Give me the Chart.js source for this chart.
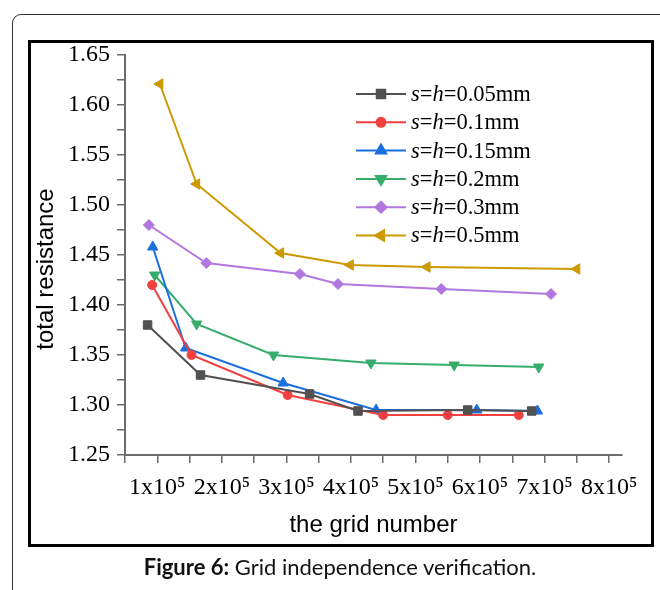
<!DOCTYPE html>
<html>
<head>
<meta charset="utf-8">
<script src="https://cdn.jsdelivr.net/npm/chart.js@4.4.1/dist/chart.umd.min.js"></script>
<style>
  html, body { margin: 0; padding: 0; background: #fff; }
  #page { position: relative; width: 660px; height: 590px; overflow: hidden; }
  #outer { position: absolute; left: 12px; top: 14px; width: 700px; height: 640px;
           border: 1px solid #333; border-radius: 9px; }
  #frame { position: absolute; left: 28px; top: 40px; width: 620px; height: 501px;
           border: 3px solid #000; }
  #wrap { position: absolute; left: 0; top: 0; width: 660px; height: 590px; }
  #caption { position: absolute; left: 0; width: 680px; top: 553px; text-align: center;
             font-family: Lato, "Open Sans", sans-serif; font-size: 22px; color: #111; }
</style>
</head>
<body>
<div id="page">
  <div id="outer"></div>
  <div id="frame"></div>
  <div id="wrap"><canvas id="grid"></canvas></div>
  <div id="caption"><b>Figure 6:</b> Grid independence verification.</div>
</div>
<script>
// ==================== DATOS ====================

// grid number, in units of 1x10^5
const gx005 = [0.85, 1.67, 3.36, 4.11, 5.81, 6.80];
const gx01  = [0.92, 1.53, 3.02, 4.50, 5.50, 6.60];
const gx015 = [0.93, 1.44, 2.95, 4.39, 5.95, 6.89];
const gx02  = [0.96, 1.61, 2.80, 4.31, 5.60, 6.91];
const gx03  = [0.87, 1.76, 3.21, 3.80, 5.40, 7.10];
const gx05  = [1.04, 1.61, 2.91, 3.99, 5.18, 7.50];

// total resistance
const r005 = [1.38, 1.33, 1.311, 1.294, 1.295, 1.294];
const r01  = [1.42, 1.35, 1.31, 1.29, 1.29, 1.29];
const r015 = [1.458, 1.357, 1.322, 1.295, 1.295, 1.294];
const r02  = [1.43, 1.381, 1.35, 1.342, 1.34, 1.338];
const r03  = [1.48, 1.442, 1.431, 1.421, 1.416, 1.411];
const r05  = [1.621, 1.521, 1.452, 1.44, 1.438, 1.436];

const labels = ["s=h=0.05mm", "s=h=0.1mm", "s=h=0.15mm", "s=h=0.2mm", "s=h=0.3mm", "s=h=0.5mm"];
const xTicks = [1, 2, 3, 4, 5, 6, 7, 8];

const serie = (x, y) => x.map((v, i) => ({ x: v, y: y[i] }));

const estilos = [
  { color: "#515151", pointStyle: "rect", radius: 6, rot: 0 },
  { color: "#F14040", pointStyle: "circle", radius: 4.5, rot: 0 },
  { color: "#1A6FDF", pointStyle: "triangle", radius: 6, rot: 0 },
  { color: "#37AD6B", pointStyle: "triangle", radius: 6, rot: 180 },
  { color: "#B177DE", pointStyle: "rectRot", radius: 5.5, rot: 0 },
  { color: "#CC9900", pointStyle: "triangle", radius: 6, rot: -90 },
];

const datos = [serie(gx005, r005), serie(gx01, r01), serie(gx015, r015),
               serie(gx02, r02), serie(gx03, r03), serie(gx05, r05)];

const datasets = datos.map((d, i) => ({
  label: labels[i],
  data: d,
  showLine: true,
  borderColor: estilos[i].color,
  backgroundColor: estilos[i].color,
  borderWidth: 2,
  pointStyle: estilos[i].pointStyle,
  pointRotation: estilos[i].rot,
  pointRadius: estilos[i].radius,
  pointBorderWidth: 1,
  tension: 0,
}));

// ==================== LEYENDA Y TÍTULO Y ====================

const serif = '"Liberation Serif", "Times New Roman", serif';
const sans = '"Liberation Sans", Arial, sans-serif';

const leyenda = {
  id: "leyenda",
  afterDraw(chart) {
    const ctx = chart.ctx;
    ctx.save();
    labels.forEach((txt, i) => {
      const y = 94 + i * 28.3;
      const e = estilos[i];
      ctx.strokeStyle = e.color;
      ctx.lineWidth = 2;
      ctx.beginPath();
      ctx.moveTo(356, y);
      ctx.lineTo(406, y);
      ctx.stroke();
      ctx.fillStyle = e.color;
      Chart.helpers.drawPoint(ctx, {
        pointStyle: e.pointStyle, radius: e.radius, rotation: e.rot, borderWidth: 1,
      }, 381, y);
      ctx.fill();

      // s y h en cursiva
      const partes = [["s", true], ["=", false], ["h", true], [txt.slice(3), false]];
      let x = 411;
      ctx.fillStyle = "#000";
      ctx.textBaseline = "middle";
      partes.forEach(([p, it]) => {
        ctx.font = (it ? "italic " : "") + "22.5px " + serif;
        ctx.fillText(p, x, y + 1);
        x += ctx.measureText(p).width;
      });
    });

    // título del eje Y, algo por debajo del centro del eje
    const yAxis = chart.scales.y;
    ctx.translate(46, (yAxis.top + yAxis.bottom) / 2 + 14);
    ctx.rotate(-Math.PI / 2);
    ctx.font = "24px " + sans;
    ctx.fillStyle = "#000";
    ctx.textAlign = "center";
    ctx.textBaseline = "middle";
    ctx.fillText("total resistance", 0, 0);
    ctx.restore();
  },
};

// ==================== GRÁFICO ====================

const ejeColor = "#6b6b6b";

new Chart(document.getElementById("grid"), {
  type: "scatter",
  data: { datasets },
  options: {
    responsive: true,
    maintainAspectRatio: false,
    animation: false,
    layout: { padding: { left: 0, top: 55, right: 38, bottom: 45 } },
    plugins: { legend: { display: false }, tooltip: { enabled: false } },
    scales: {
      x: {
        type: "linear",
        min: 0.5,
        max: 8.2,
        afterFit: (s) => { s.height = 90; },
        afterBuildTicks: (s) => {
          const t = [];
          for (let v = 0.5; v <= 8.01; v += 0.5) t.push({ value: v });
          s.ticks = t;
        },
        ticks: {
          autoSkip: false,
          maxRotation: 0,
          padding: 10,
          color: "#000",
          font: { family: serif, size: 24 },
          callback: (v) => (xTicks.includes(v) ? v + "x10\u2075" : ""),
        },
        grid: { drawOnChartArea: false, drawTicks: true, tickLength: 8, color: ejeColor, lineWidth: 1.5 },
        border: { color: ejeColor, width: 2 },
        title: {
          display: true,
          text: "the grid number",
          color: "#000",
          font: { family: sans, size: 24 },
          padding: { top: 0, bottom: 5 },
        },
      },
      y: {
        min: 1.25,
        max: 1.65,
        afterFit: (s) => { s.width = 125; },
        ticks: {
          stepSize: 0.025,
          autoSkip: false,
          padding: 7,
          color: "#000",
          font: { family: serif, size: 24 },
          callback: (v) => {
            const k = v * 20;
            return Math.abs(k - Math.round(k)) < 1e-6 ? v.toFixed(2) : "";
          },
        },
        grid: { drawOnChartArea: false, drawTicks: true, tickLength: 8, color: ejeColor, lineWidth: 1.5 },
        border: { color: ejeColor, width: 2 },
      },
    },
  },
  plugins: [leyenda],
});
</script>
</body>
</html>
